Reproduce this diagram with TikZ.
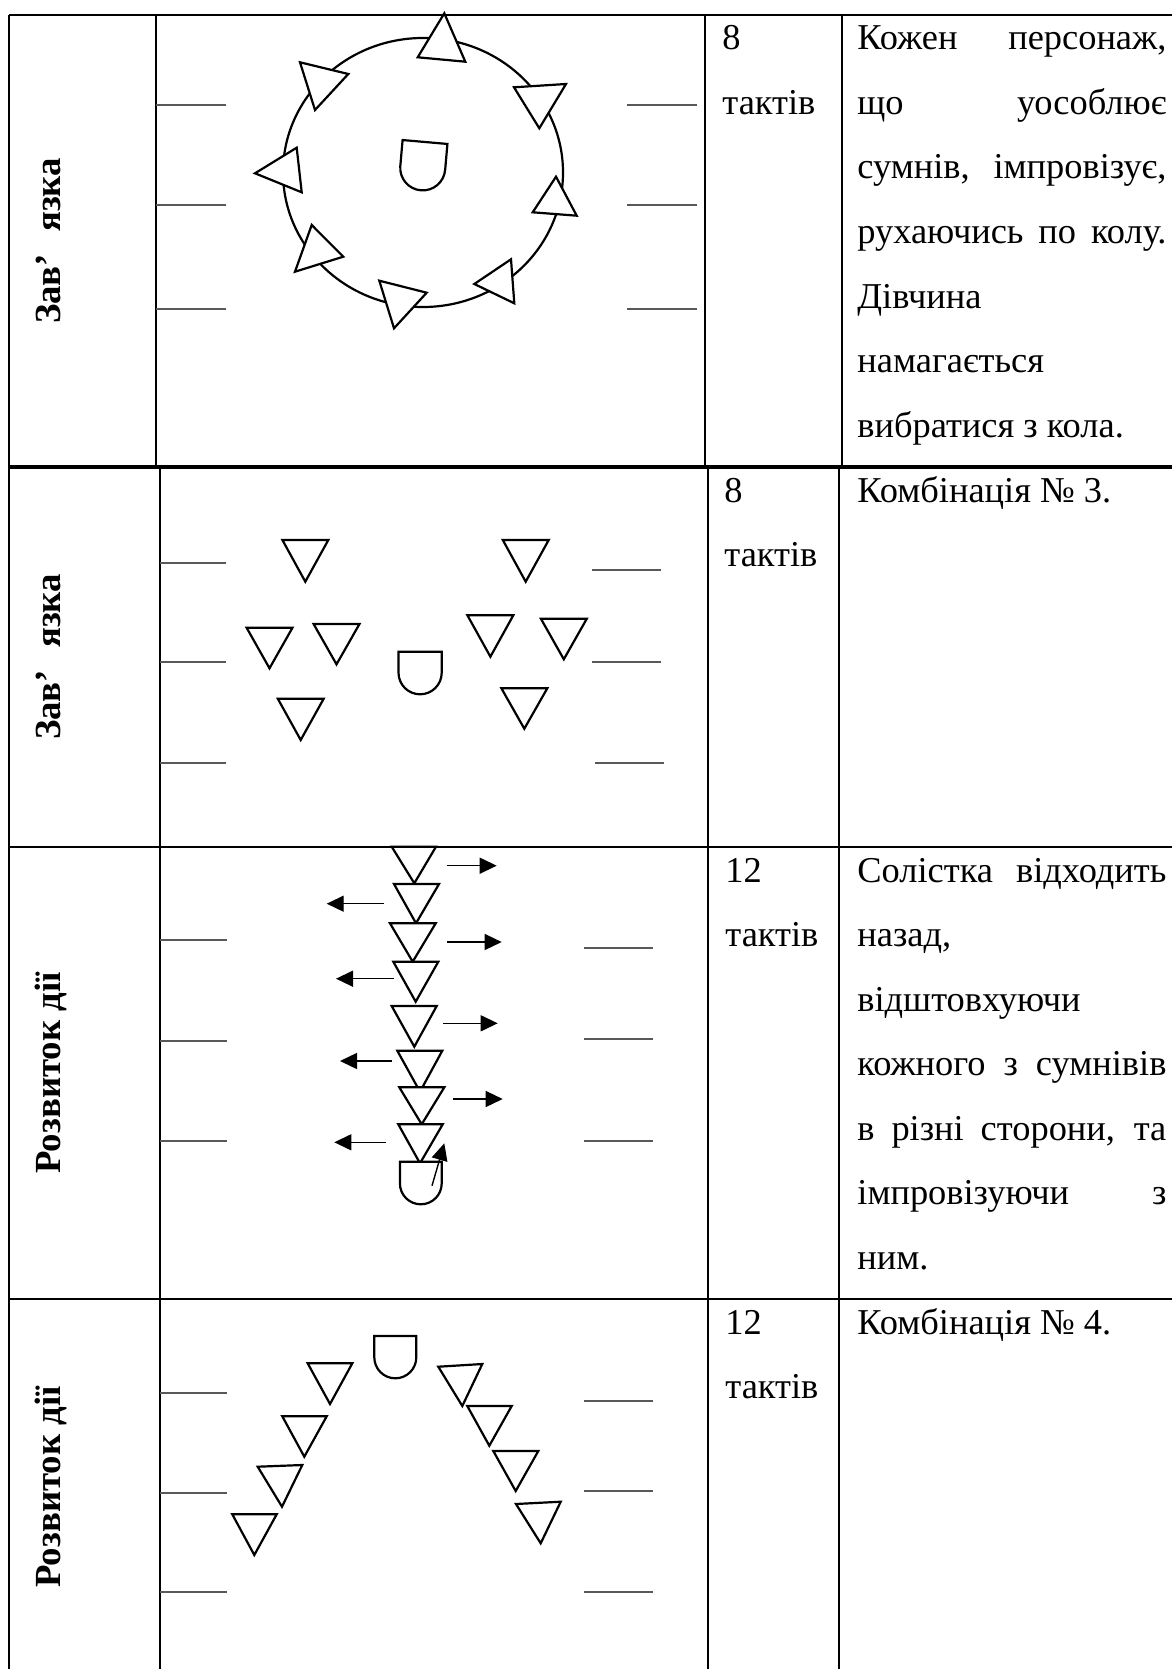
\documentclass[tikz,border=0pt]{standalone}
\usepackage{fontspec}
\setmainfont{Liberation Serif}
\usetikzlibrary{arrows.meta}
\begin{document}
\begin{tikzpicture}[x=0.5pt,y=-0.5pt,
  grid/.style={line width=1pt},
  tick/.style={line width=0.8pt, draw=black!65},
  shp/.style={line width=1.1pt, line join=miter, fill=white},
  arr/.style={line width=0.7pt, -{Triangle[length=8.5pt,width=8pt]}},
  txt/.style={anchor=base west, inner sep=0pt, font=\fontsize{18.2}{20}\selectfont},
  lbl/.style={anchor=base, rotate=90, inner sep=0pt, font=\fontsize{18.4}{20}\selectfont\bfseries},
  pics/girl/.style n args={2}{code={\draw[shp] (-#1,0) -- (#1,0) -- (#1,#2) arc[start angle=0,end angle=180,radius=#1] -- cycle;}}
]
\useasboundingbox[fill=white] (0,0) rectangle (1172,1669);

% ---------- table ----------
\draw[grid] (9,15) -- (1172,15);
\draw[grid] (9,15) -- (9,1669);
\draw[grid] (156,15) -- (156,467);
\draw[grid] (160,467) -- (160,1669);
\draw[grid] (705,15) -- (705,467);
\draw[grid] (708,467) -- (708,1669);
\draw[grid] (842,15) -- (842,467);
\draw[grid] (839,467) -- (839,1669);
\draw[line width=1.7pt] (9,467) -- (1172,467);
\draw[line width=1.2pt] (9,847) -- (1172,847);
\draw[grid] (9,1299) -- (1172,1299);

% ---------- side labels ----------
\node[lbl] (l1) at (60,241) {Зав’\hspace{0.6em}язка};
\node[lbl] (l2) at (60,657) {Зав’\hspace{0.6em}язка};
\node[lbl] (l3) at (60,1073) {Розвиток дії};
\node[lbl] (l4) at (60,1487) {Розвиток дії};

% ---------- wing ticks ----------
\foreach \y in {105,205,309}{\draw[tick] (156,\y) -- (226,\y); \draw[tick] (627,\y) -- (697,\y);}
\foreach \y in {563,662,763}{\draw[tick] (160,\y) -- (226,\y);}
\draw[tick] (592,570) -- (661,570);
\draw[tick] (592,662) -- (661,662);
\draw[tick] (595,763) -- (664,763);
\foreach \y in {940,1041,1141}{\draw[tick] (160,\y) -- (227,\y);}
\foreach \y in {948,1039,1141}{\draw[tick] (584,\y) -- (653,\y);}
\foreach \y in {1393,1493,1592}{\draw[tick] (160,\y) -- (227,\y);}
\foreach \y in {1401,1491,1592}{\draw[tick] (584,\y) -- (653,\y);}

% ---------- row 1: circle ----------
\draw[line width=1.1pt] (423,172.5) ellipse [x radius=140, y radius=134.5];
\draw[shp] (444.3,13.3) -- (417.7,57.3) -- (465.3,61.7) -- cycle;
\draw[shp] (300,62.3) -- (348.3,74) -- (315,110) -- cycle;
\draw[shp] (514,87.3) -- (566,84) -- (539.3,128.3) -- cycle;
\draw[shp] (255,173.3) -- (296.7,147.7) -- (301.7,192.3) -- cycle;
\draw[shp] (556,176.7) -- (532.7,212.3) -- (576.7,215.7) -- cycle;
\draw[shp] (311.7,225) -- (343.3,256.7) -- (295,271.7) -- cycle;
\draw[shp] (379.3,280.7) -- (426.7,292.7) -- (394,328.3) -- cycle;
\draw[shp] (511,259.3) -- (514.3,303.3) -- (474.3,284) -- cycle;
\pic[rotate=-5] at (425,142) {girl={22.5}{26}};

% ---------- row 2 ----------
\draw[shp] (282.4,540) -- (328.3,540) -- (305.3,581.7) -- cycle;
\draw[shp] (502.8,540) -- (548.7,540) -- (525.7,581.7) -- cycle;
\draw[shp] (246.6,627.7) -- (292.5,627.7) -- (269.5,668.3) -- cycle;
\draw[shp] (313.6,624) -- (359.5,624) -- (336.5,664.3) -- cycle;
\draw[shp] (467.4,615.3) -- (513.3,615.3) -- (490.4,656.7) -- cycle;
\draw[shp] (540.9,618.7) -- (586.8,618.7) -- (563.8,659.3) -- cycle;
\draw[shp] (277.8,698.7) -- (323.7,698.7) -- (300.7,740) -- cycle;
\draw[shp] (501.4,688.3) -- (547.3,688.3) -- (524.3,728.7) -- cycle;
\pic at (420.1,651.7) {girl={21.6}{21}};

% ---------- row 3 ----------
\draw[shp] (391.7,846.7) -- (436,846.7) -- (414.3,883.3) -- cycle;
\draw[shp] (394,884) -- (439,884) -- (416,923.3) -- cycle;
\draw[shp] (390,923.3) -- (435.7,923.3) -- (412.7,961.7) -- cycle;
\draw[shp] (393.3,961.7) -- (438.3,961.7) -- (415.7,1001.7) -- cycle;
\draw[shp] (391.7,1006) -- (436.7,1006) -- (414.3,1046.7) -- cycle;
\draw[shp] (397.3,1050.7) -- (442.3,1050.7) -- (420,1091.7) -- cycle;
\draw[shp] (399.3,1087.3) -- (444.3,1087.3) -- (421.7,1124.3) -- cycle;
\draw[shp] (398.3,1124.3) -- (442.7,1124.3) -- (420,1163.3) -- cycle;
\pic at (420.8,1161.7) {girl={20.9}{21.7}};
\draw[arr] (446.7,865.7) -- (496.7,865.7);
\draw[arr] (384.3,903.7) -- (326.7,903.7);
\draw[arr] (447.3,942) -- (501.7,942);
\draw[arr] (394,978.7) -- (336,978.7);
\draw[arr] (443.3,1023.3) -- (497.7,1023.3);
\draw[arr] (391.7,1061) -- (340,1061);
\draw[arr] (452.7,1099) -- (502.7,1099);
\draw[arr] (386,1142.3) -- (334.3,1142.3);
\draw[arr] (432,1185.7) -- (444.3,1143.3);

% ---------- row 4 ----------
\pic at (395.3,1336) {girl={21}{21.3}};
\draw[shp] (307.7,1363.3) -- (352.3,1363.3) -- (330,1404) -- cycle;
\draw[shp] (282.3,1416.3) -- (326.7,1416.3) -- (304.3,1456.7) -- cycle;
\draw[shp] (257.7,1466.7) -- (302.3,1465) -- (282,1506.7) -- cycle;
\draw[shp] (232.3,1514.3) -- (276.7,1514.3) -- (254.3,1555) -- cycle;
\draw[shp] (438.3,1366.7) -- (482.3,1364) -- (462.3,1406) -- cycle;
\draw[shp] (467.3,1406) -- (511.7,1406) -- (489.3,1445.7) -- cycle;
\draw[shp] (493.3,1451) -- (538.3,1451) -- (515.7,1491) -- cycle;
\draw[shp] (516,1504) -- (560.7,1501.7) -- (540.7,1543.3) -- cycle;

% ---------- tempo column ----------
\node[txt] (n1) at (722,50) {8};
\node[txt] (t1) at (722,114.5) {тактів};
\node[txt] (n2) at (724,502) {8};
\node[txt] (t2) at (724,566.5) {тактів};
\node[txt] (n3) at (725,882) {12};
\node[txt] (t3) at (725,946.5) {тактів};
\node[txt] (n4) at (725,1334) {12};
\node[txt] (t4) at (725,1398.5) {тактів};

% ---------- description column ----------
\node[txt] (d11) at (857,50) {\hbox to 154.5pt{Кожен персонаж,}};
\node[txt] (d12) at (857,114.5) {\hbox to 154.5pt{що уособлює}};
\node[txt] (d13) at (857,179) {\hbox to 154.5pt{сумнів, імпровізує,}};
\node[txt] (d14) at (857,243.5) {\hbox to 154.5pt{рухаючись по колу.}};
\node[txt] (d15) at (857,308) {Дівчина};
\node[txt] (d16) at (857,372.5) {намагається};
\node[txt] (d17) at (857,437) {вибратися з кола.};

\node[txt] (d21) at (857,502) {Комбінація № 3.};

\node[txt] (d31) at (857,882) {\hbox to 154.5pt{Солістка відходить}};
\node[txt] (d32) at (857,946.5) {назад,};
\node[txt] (d33) at (857,1011) {відштовхуючи};
\node[txt] (d34) at (857,1075.5) {\hbox to 154.5pt{кожного з сумнівів}};
\node[txt] (d35) at (857,1140) {\hbox to 154.5pt{в різні сторони, та}};
\node[txt] (d36) at (857,1204.5) {\hbox to 154.5pt{імпровізуючи з}};
\node[txt] (d37) at (857,1269) {ним.};

\node[txt] (d41) at (857,1334) {Комбінація № 4.};
\end{tikzpicture}
\end{document}
